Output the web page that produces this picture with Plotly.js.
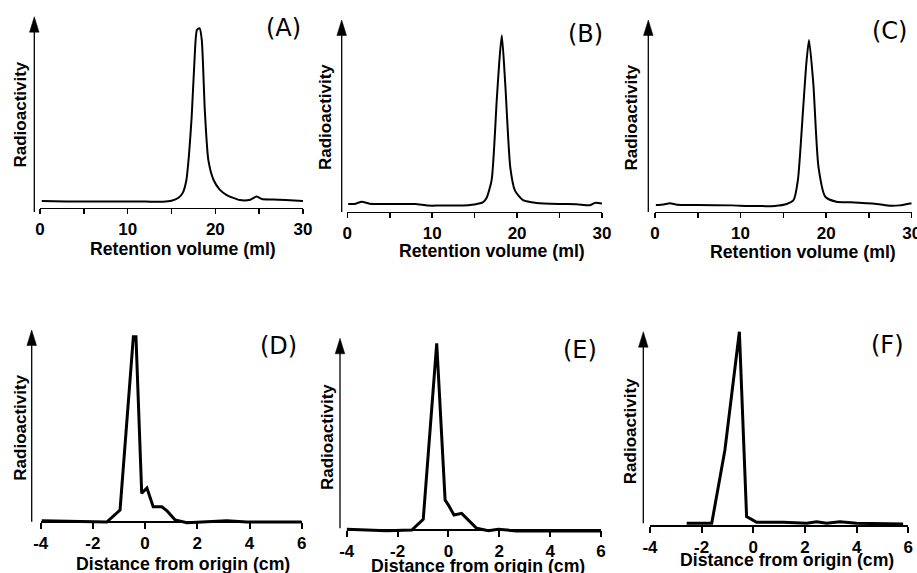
<!DOCTYPE html>
<html>
<head>
<meta charset="utf-8">
<script src="https://cdn.plot.ly/plotly-3.0.1.min.js"></script>
<style>html,body{margin:0;padding:0;background:#fff;}#chart{width:917px;height:573px;}</style>
</head>
<body>
<div id="chart"></div>
<script>
// ---------- data ----------
const volA = [0.2, 3, 6, 9, 12, 14, 15, 15.8, 16.3, 16.7, 17.0, 17.3, 17.6, 17.9, 18.2, 18.45, 18.8, 19.2, 19.8, 20.5, 21.3, 22.8, 24.0, 24.7, 25.3, 26.5, 28, 30];
const radA = [3.5, 3.3, 3.2, 3.2, 3.2, 3.1, 3.6, 5.2, 7.9, 14.5, 28, 47.5, 75, 93, 94, 88, 51, 25, 14.5, 9.5, 6.6, 4.0, 4.2, 5.8, 4.6, 4.3, 4.0, 3.5];

const volB = [0.1, 1.0, 1.7, 2.6, 4, 6, 8, 9.5, 11, 13, 15, 16.0, 16.4, 17.0, 17.6, 17.9, 18.2, 18.6, 19.2, 19.75, 20.7, 22.3, 25, 27, 28.6, 29.2, 30];
const radB = [4.0, 4.2, 5.2, 4.2, 4.0, 4.0, 4.0, 3.2, 3.2, 3.2, 3.8, 5.0, 7.1, 16.5, 58, 78, 92, 67, 23, 11, 6, 4.5, 4.0, 3.9, 3.4, 4.6, 4.3];

const volC = [0.1, 1.0, 1.75, 2.6, 5, 9, 11, 14, 15.4, 16.2, 16.7, 17.3, 17.7, 18.0, 18.5, 19.1, 19.9, 21.2, 22.8, 25.9, 27.5, 28.6, 30];
const radC = [3.5, 3.8, 4.4, 3.6, 3.5, 3.3, 3.0, 3.0, 4.0, 6.1, 16.5, 53, 78, 89.6, 67, 23.5, 7.8, 5.2, 4.9, 4.0, 3.1, 3.3, 4.4];

const distD = [-3.96, -2.5, -1.47, -0.96, -0.45, -0.35, -0.13, 0.07, 0.31, 0.64, 0.85, 1.15, 1.6, 3.13, 3.9, 6];
const radD  = [0.5, 0, -0.2, 6.1, 96.5, 96.5, 14.8, 17.6, 7.8, 7.8, 5.5, 0.9, -0.5, 0.5, -0.2, -0.2];

const distE = [-4, -2.43, -1.44, -0.99, -0.46, -0.13, 0.0, 0.22, 0.52, 1.11, 1.57, 1.96, 2.68, 6];
const radE  = [0.4, -0.4, 0, 5.6, 97.4, 15.6, 13, 7.8, 8.7, 0.9, -0.4, 0.4, -0.5, -0.5];

const distF = [-2.58, -1.61, -1.1, -0.54, -0.26, 0.13, 1.16, 2.07, 2.45, 2.84, 3.35, 4, 5.8];
const radF  = [1.4, 1.4, 39.1, 100, 4.8, 1.9, 1.9, 1.4, 2.2, 1.4, 2.2, 1.4, 1.0];

const retentionTicks = [0, 10, 20, 30];
const retentionTickText = ['0', '10', '20', '30'];
const distanceTicks = [-4, -2, 0, 2, 4, 6];
const distanceTickText = ['-4', '-2', '0', '2', '4', '6'];

const panelLabels = ['(A)', '(B)', '(C)', '(D)', '(E)', '(F)'];
const xTitleRetention = 'Retention volume (ml)';
const xTitleDistance = 'Distance from origin (cm)';
const yTitle = 'Radioactivity';

// ---------- layout geometry (pixels in the 917x573 picture) ----------
const W = 917, H = 573;
const fx = p => p / W;
const fy = p => 1 - p / H;

const geom = [
  {x0: 40,    x1: 303,   axisY: 207.7, tip: 16.7,  arrowX: 34.3,  arrowBot: 212,   lab: [283, 28],  yt: [20, 114.5],  xt: [183, 249],   kind: 'ret'},
  {x0: 347.3, x1: 602,   axisY: 211.7, tip: 20,    arrowX: 341.7, arrowBot: 212,   lab: [585, 34],  yt: [325.5, 117.5], xt: [492.5, 251], kind: 'ret'},
  {x0: 655,   x1: 911.7, axisY: 211.7, tip: 20,    arrowX: 648.3, arrowBot: 212,   lab: [889, 31],  yt: [630.5, 118], xt: [802.5, 252], kind: 'ret'},
  {x0: 40.7,  x1: 301.7, axisY: 521.7, tip: 330,   arrowX: 31.7,  arrowBot: 521.7, lab: [278, 346], yt: [19.7, 428],  xt: [182.5, 564], kind: 'dist'},
  {x0: 346.7, x1: 601,   axisY: 530,   tip: 338.3, arrowX: 340,   arrowBot: 528.3, lab: [580, 350], yt: [327.5, 437.5], xt: [478, 565.5], kind: 'dist'},
  {x0: 650,   x1: 908.3, axisY: 526,   tip: 331.7, arrowX: 643.3, arrowBot: 523.3, lab: [887, 345], yt: [630.5, 431.7], xt: [786.7, 560], kind: 'dist'}
];

const series = [[volA, radA], [volB, radB], [volC, radC], [distD, radD], [distE, radE], [distF, radF]];

const tickFont = {family: 'Liberation Sans, Arial, sans-serif', size: 17, weight: 'bold', color: '#000'};
const titleFont = {family: 'Liberation Sans, Arial, sans-serif', size: 17.7, weight: 'bold', color: '#000'};
const yTitleFont = {family: 'Liberation Sans, Arial, sans-serif', size: 17, weight: 'bold', color: '#000'};
const labFont = {family: 'DejaVu Sans, sans-serif', size: 24, color: '#000'};

const data = [];
const layout = {
  width: W, height: H,
  margin: {l: 0, r: 0, t: 0, b: 0},
  paper_bgcolor: '#fff', plot_bgcolor: 'rgba(0,0,0,0)',
  showlegend: false,
  shapes: [], annotations: []
};

const YMIN = -5, YMAX = 105;
geom.forEach((g, i) => {
  const n = i + 1;
  const xa = 'xaxis' + (n === 1 ? '' : n), ya = 'yaxis' + (n === 1 ? '' : n);
  const ret = g.kind === 'ret';
  const span = g.axisY - g.tip;
  const botPx = g.axisY - YMIN / 100 * span;
  const topPx = g.tip - (YMAX - 100) / 100 * span;

  data.push({
    type: 'scatter', mode: 'lines',
    x: series[i][0], y: series[i][1],
    xaxis: 'x' + (n === 1 ? '' : n), yaxis: 'y' + (n === 1 ? '' : n),
    line: ret ? {color: '#000', width: 2, shape: 'spline', smoothing: 0.6} : {color: '#000', width: 3, shape: 'linear'},
    hoverinfo: 'skip'
  });

  const xaxis = {
    domain: [fx(g.x0), fx(g.x1)],
    range: ret ? [0, 30] : [-4, 6],
    anchor: 'free', position: fy(g.axisY),
    showline: true, linecolor: '#000', linewidth: ret ? 1.5 : 2,
    showgrid: false, zeroline: false,
    ticks: 'outside', ticklen: ret ? 5 : 6, tickwidth: ret ? 1.5 : 2, tickcolor: '#000',
    tickmode: 'array',
    tickvals: ret ? retentionTicks : distanceTicks,
    ticktext: ret ? retentionTickText : distanceTickText,
    tickfont: tickFont,
    ticklabeloverflow: 'allow',
    fixedrange: true
  };
  if (ret) {
    xaxis.minor = {tickmode: 'linear', tick0: 0, dtick: 5, ticks: 'outside', ticklen: 5, tickwidth: 1.5, tickcolor: '#000', showgrid: false};
  }
  layout[xa] = xaxis;
  layout[ya] = {
    domain: [fy(botPx), fy(topPx)],
    range: [YMIN, YMAX],
    anchor: 'x' + (n === 1 ? '' : n),
    visible: false, fixedrange: true
  };

  // y-axis arrow (stem + filled head)
  layout.shapes.push({type: 'line', xref: 'paper', yref: 'paper',
    x0: fx(g.arrowX), x1: fx(g.arrowX), y0: fy(g.arrowBot), y1: fy(g.tip + 10),
    line: {color: '#000', width: 1.3}});
  layout.shapes.push({type: 'path', xref: 'paper', yref: 'paper',
    path: 'M ' + fx(g.arrowX) + ' ' + fy(g.tip) +
          ' L ' + fx(g.arrowX - 4.8) + ' ' + fy(g.tip + 15.5) +
          ' L ' + fx(g.arrowX + 4.8) + ' ' + fy(g.tip + 15.5) + ' Z',
    fillcolor: '#000', line: {color: '#000', width: 0.5}});

  // texts
  layout.annotations.push({xref: 'paper', yref: 'paper', x: fx(g.lab[0]), y: fy(g.lab[1]),
    xanchor: 'center', yanchor: 'middle', showarrow: false, text: panelLabels[i], font: labFont});
  layout.annotations.push({xref: 'paper', yref: 'paper', x: fx(g.yt[0]), y: fy(g.yt[1]),
    xanchor: 'center', yanchor: 'middle', showarrow: false, textangle: -90, text: yTitle, font: yTitleFont});
  layout.annotations.push({xref: 'paper', yref: 'paper', x: fx(g.xt[0]), y: fy(g.xt[1]),
    xanchor: 'center', yanchor: 'middle', showarrow: false, text: ret ? xTitleRetention : xTitleDistance, font: titleFont});
});

Plotly.newPlot('chart', data, layout, {staticPlot: true, displayModeBar: false});
</script>
</body>
</html>
